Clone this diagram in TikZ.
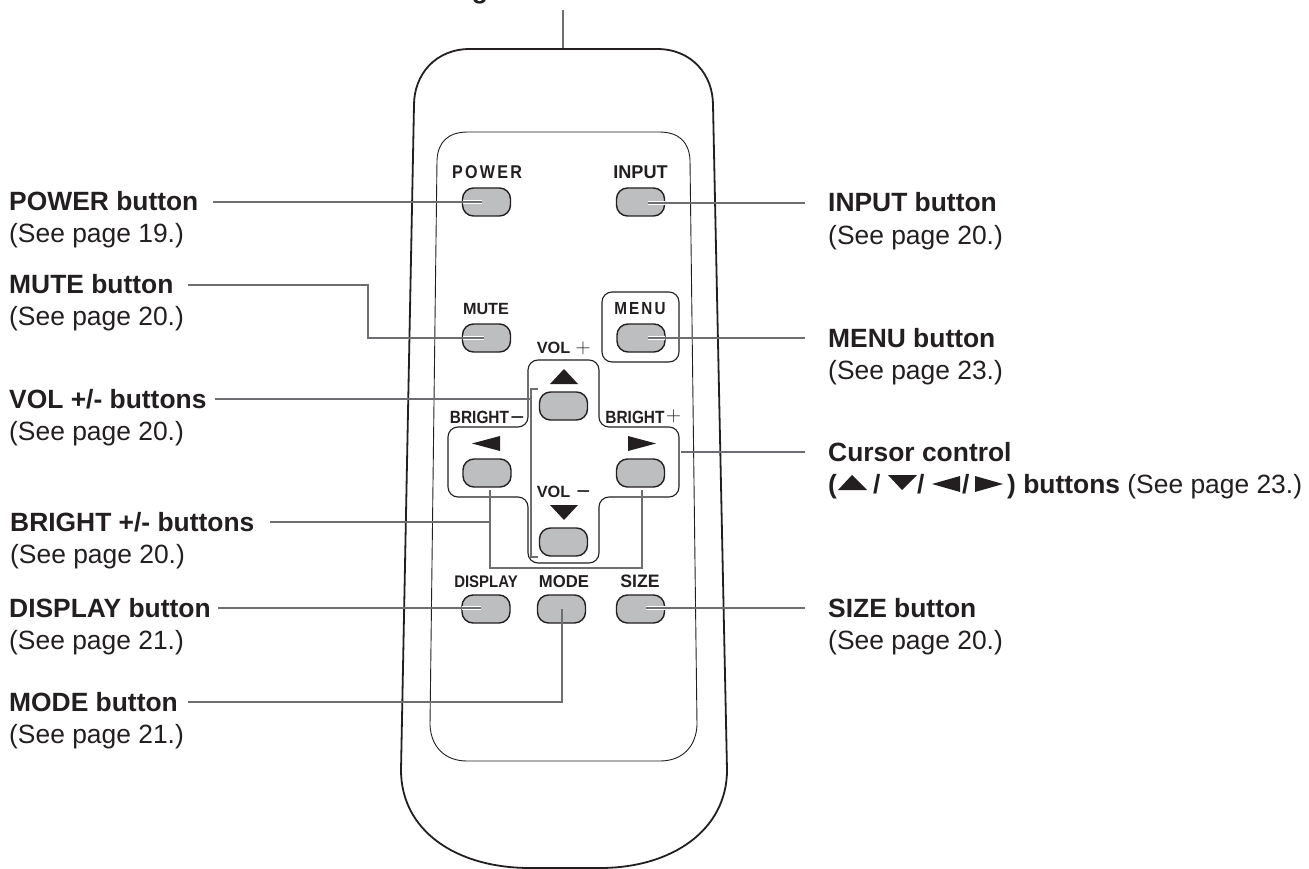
\documentclass[tikz,border=0pt]{standalone}
\usepackage{fontspec}
\setmainfont{Liberation Sans}
\usetikzlibrary{calc}
\definecolor{ink}{HTML}{231F20}
\definecolor{lead}{HTML}{6D6E71}
\definecolor{btn}{HTML}{BCBEC0}
\newcommand{\titlefont}{\fontsize{26.4}{30}\selectfont\bfseries}
\newcommand{\subfont}{\fontsize{26.4}{30}\selectfont}
\newcommand{\lab}[5]{%
  \node[txt] (#1) at (#2,#3) {\titlefont #4};
  \node[txt] (#1p) at (#2,#3+32) {\subfont #5};}
\newcommand{\capt}[6]{% name x y size xscale text
  \node[small label,xscale=#5] (#1) at (#2,#3) {\fontsize{#4}{#4}\selectfont\bfseries #6};}
\newcommand{\capts}[6]{% same, letter-spaced
  \node[small label,xscale=#5] (#1) at (#2,#3) {\fontsize{#4}{#4}\selectfont\bfseries\addfontfeature{LetterSpace=14}#6};}
\tikzset{
  txt/.style={anchor=base west,inner sep=0pt,text=ink},
  small label/.style={anchor=base,inner sep=0pt,text=ink},
  mathsym/.style={inner sep=0pt,text=ink},
  body/.style={draw=ink,line width=1.8pt},
  panel/.style={draw=ink,line width=0.9pt},
  boxline/.style={draw=ink,line width=1.1pt,rounded corners=10pt},
  keycap/.style={draw=ink,fill=btn,line width=1.4pt,rounded corners=11pt,minimum width=48pt,minimum height=28pt,inner sep=0pt},
  leader/.style={draw=lead,line width=2.6pt},
  halo/.style={draw=white,line width=4pt},
  tri/.style={fill=ink,draw=none},
}
\begin{document}
\begin{tikzpicture}[x=1pt,y=-1pt]
\useasboundingbox (0,0) rectangle (1309,869);
\fill[white] (0,0) rectangle (1309,869);
% fragment of clipped label at the top
\node[small label] (topg) at (480,-1.5) {\titlefont g};
% body
\draw[body] (563,49) -- (470,49) .. controls (435,49) and (414,75) .. (414,105)
  -- (401,770) .. controls (401,830) and (455,868) .. (530,868)
  -- (600,868) .. controls (672,868) and (727,830) .. (727,770)
  -- (713,105) .. controls (713,75) and (692,49) .. (657,49) -- cycle;
% panel
\draw[panel] (468,132) .. controls (448,132) and (438,142) .. (437,160)
  -- (430,725) .. controls (431,747) and (445,761) .. (467,761)
  -- (660,761) .. controls (682,761) and (696,747) .. (697,725)
  -- (690,160) .. controls (689,142) and (679,132) .. (659,132) -- cycle;
% menu box and cross
\draw[boxline] (602,292) rectangle (679,362);
\draw[boxline] (528,360) -- (599,360) -- (599,427) -- (679,427) -- (679,497)
  -- (599,497) -- (599,563) -- (528,563) -- (528,497) -- (448,497) -- (448,427) -- (528,427) -- cycle;
% buttons
\node[keycap] (bpower) at (486.5,202) {};
\node[keycap] (binput) at (640.5,202) {};
\node[keycap] (bmute) at (486.5,338) {};
\node[keycap] (bmenu) at (641,338) {};
\node[keycap] (bvolup) at (563.5,406) {};
\node[keycap] (bleft) at (487,473) {};
\node[keycap] (bright) at (640.5,473) {};
\node[keycap] (bvoldn) at (563.5,542) {};
\node[keycap] (bdisplay) at (486,609) {};
\node[keycap] (bmode) at (561.5,609) {};
\node[keycap] (bsize) at (640.5,609) {};
% triangles on the pad
\fill[tri] (564,369) -- (578,384) -- (550,384) -- cycle;
\fill[tri] (564,520) -- (578,505) -- (550,505) -- cycle;
\fill[tri] (472,443.5) -- (500,436) -- (500,451) -- cycle;
\fill[tri] (656,443.5) -- (628,436) -- (628,451) -- cycle;
% key captions
\capts{tpower}{487}{179}{18.5}{0.87}{POWER}
\capt{tinput}{640.5}{179}{18.5}{0.98}{INPUT}
\capt{tmute}{486}{314}{16.2}{1}{MUTE}
\capts{tmenu}{640}{314}{17.5}{0.87}{MENU}
\capt{tvolp}{553.5}{353}{16.3}{1}{VOL}
\node[mathsym] (pvol) at (583,348) {\fontsize{21}{21}\selectfont$+$};
\capt{tbm}{479.5}{423}{17.7}{0.87}{BRIGHT}
\node[mathsym] (mbr) at (517.5,421) {\fontsize{24}{24}\selectfont −};
\capt{tbp}{635}{423}{17.7}{0.87}{BRIGHT}
\node[mathsym] (pbr) at (673.5,416) {\fontsize{21}{21}\selectfont$+$};
\capt{tvolm}{553.5}{497}{16.3}{1}{VOL}
\node[mathsym] (mvol) at (583.5,495) {\fontsize{24}{24}\selectfont −};
\capt{tdisplay}{486}{587}{16.8}{0.89}{DISPLAY}
\capt{tmode}{564}{587}{17.2}{0.97}{MODE}
\capt{tsize}{640}{587}{18}{0.98}{SIZE}
% labels
\lab{lpower}{9}{211}{POWER button}{(See page 19.)}
\lab{lmute}{9}{293}{MUTE button}{(See page 20.)}
\lab{lvol}{9}{408}{VOL +/- buttons}{(See page 20.)}
\lab{lbright}{10}{531}{BRIGHT +/- buttons}{(See page 20.)}
\lab{ldisplay}{9}{617}{DISPLAY button}{(See page 21.)}
\lab{lmode}{9}{711}{MODE button}{(See page 21.)}
\lab{linput}{828}{212}{INPUT button}{(See page 20.)}
\lab{lmenu}{828}{347}{MENU button}{(See page 23.)}
\lab{lsize}{828}{617}{SIZE button}{(See page 20.)}
\node[txt] (lcursor) at (828,461) {\titlefont Cursor control};
\node[txt] (cp1) at (828,493) {\titlefont (};
\fill[tri] (852,475) -- (867,490) -- (838,490) -- cycle;
\node[txt] (cs1) at (873,493) {\titlefont /};
\fill[tri] (902,490) -- (888,475) -- (917,475) -- cycle;
\node[txt] (cs2) at (917,493) {\titlefont /};
\fill[tri] (932,484) -- (960,476) -- (960,492) -- cycle;
\node[txt] (cs3) at (962,493) {\titlefont /};
\fill[tri] (1003,484) -- (975,476) -- (975,492) -- cycle;
\node[txt] (cbuttons) at (1007,493) {\titlefont ) buttons \subfont\mdseries (See page 23.)};
% connector free ends
\coordinate (ctop) at (563,10);
\coordinate (cbody) at (563,48);
\coordinate (cpower) at (213,202);
\coordinate (cmute) at (188,285);
\coordinate (cvol) at (215,399);
\coordinate (cbright) at (270,522);
\coordinate (cdisplay) at (218,608);
\coordinate (cmode) at (188,702);
\coordinate (cinput) at (805,203);
\coordinate (cmenu) at (805,338);
\coordinate (ccursor) at (805,452);
\coordinate (csize) at (805,608);
\coordinate (ccross) at (681,452);
% halos inside keys
\draw[halo] ([xshift=-5pt]bpower.center) -- ++(-19,0);
\draw[halo] ([xshift=7pt,yshift=-1pt]binput.center) -- ++(17,0);
\draw[halo] ([xshift=-3pt]bmute.center) -- ++(-21,0);
\draw[halo] ([xshift=7pt]bmenu.center) -- ++(17,0);
\draw[halo] ([xshift=-5pt,yshift=1pt]bdisplay.center) -- ++(-19,0);
\draw[halo] ([xshift=5pt,yshift=1pt]bsize.center) -- ++(19,0);
% leaders
\draw[leader] (ctop) -- (cbody);
\draw[leader] (cpower) -- ([xshift=-5pt]bpower.center);
\draw[leader] (cinput) -- ([xshift=7pt,yshift=-1pt]binput.center);
\draw[leader] (cmute) -- (368,285) -- (368,338) -- ([xshift=-3pt]bmute.center);
\draw[leader] (cmenu) -- ([xshift=7pt]bmenu.center);
\draw[leader] (cvol) -- (531,399);
\draw[leader] (538,389) -- (531,389) -- (531,557) -- (538,557);
\draw[leader] (ccursor) -- (ccross);
\draw[leader] (cbright) -- (490,522);
\draw[leader] (490,490) -- (490,568) -- (642,568) -- (642,490);
\draw[leader] (cdisplay) -- ([xshift=-5pt,yshift=1pt]bdisplay.center);
\draw[leader] (csize) -- ([xshift=5pt,yshift=1pt]bsize.center);
\draw[leader] (cmode) -- (562,702) -- ([xshift=.5pt]bmode.center);
\end{tikzpicture}
\end{document}
